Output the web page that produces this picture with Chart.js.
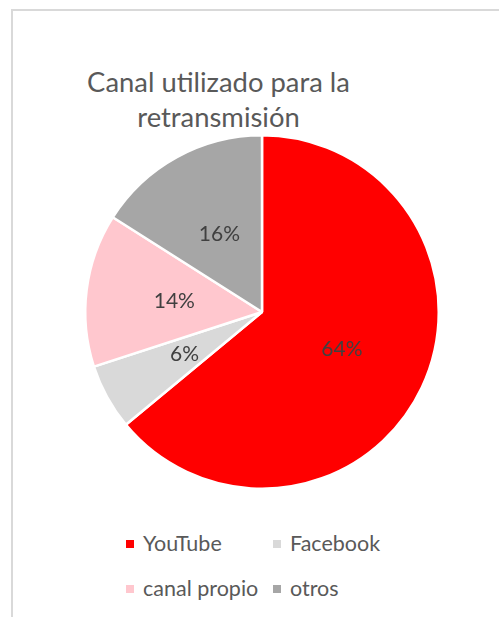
<!DOCTYPE html>
<html>
<head>
<meta charset="utf-8">
<script src="https://cdn.jsdelivr.net/npm/chart.js@4.4.0/dist/chart.umd.min.js"></script>
<style>
  body { margin: 0; background: #fff; font-family: Lato, "Open Sans", sans-serif; }
  #page { position: relative; width: 499px; height: 617px; overflow: hidden; }
  #frame { position: absolute; left: 11px; top: 9px; width: 600px; height: 700px;
           border-left: 2px solid #d9d9d9; border-top: 2px solid #d9d9d9; }
  #title { position: absolute; left: 0; width: 437px; top: 64px; text-align: center;
           color: #595959; font-size: 27.4px; line-height: 35px; }
  #box { position: absolute; left: 0; top: 0; width: 440px; height: 500px; }
  #legend { position: absolute; left: 126px; top: 528px; width: 300px; }
  .item { position: absolute; color: #595959; font-size: 21.5px; white-space: nowrap; line-height: 30px; }
  .item i { display: inline-block; width: 8px; height: 8px; margin-right: 9px; vertical-align: middle; position: relative; top: -2px; }
</style>
</head>
<body>
<div id="page">
  <div id="frame"></div>
  <div id="title">Canal utilizado para la<br>retransmisión</div>
  <div id="box"><canvas id="pie"></canvas></div>
  <div id="legend"></div>
</div>
<script>
const categories = ["YouTube", "Facebook", "canal propio", "otros"];
const shares = [64, 6, 14, 16];
const sliceColors = ["#ff0000", "#d9d9d9", "#ffc7ce", "#a6a6a6"];

// draws the percentage inside each slice, at half the radius
const sliceLabels = {
  id: "sliceLabels",
  afterDatasetsDraw(chart) {
    const ctx = chart.ctx;
    const meta = chart.getDatasetMeta(0);
    ctx.save();
    ctx.font = "21px Lato";
    ctx.fillStyle = "#404040";
    ctx.textAlign = "center";
    ctx.textBaseline = "middle";
    meta.data.forEach((arc, i) => {
      const p = arc.tooltipPosition();
      ctx.fillText(shares[i] + "%", p.x, p.y);
    });
    ctx.restore();
  }
};

const chart = new Chart(document.getElementById("pie"), {
  type: "pie",
  plugins: [sliceLabels],
  data: {
    labels: categories,
    datasets: [{
      data: shares,
      backgroundColor: sliceColors,
      borderColor: "#ffffff",
      borderWidth: 2.5
    }]
  },
  options: {
    responsive: true,
    maintainAspectRatio: false,
    animation: false,
    layout: { padding: { left: 84, right: 0, top: 134, bottom: 10 } },
    plugins: {
      legend: { display: false },
      title: { display: false },
      tooltip: { enabled: false }
    }
  }
});

// legend in two columns like the original
const legendBox = document.getElementById("legend");
categories.forEach((name, i) => {
  const el = document.createElement("div");
  el.className = "item";
  el.style.left = (i % 2) * 147 + "px";
  el.style.top = Math.floor(i / 2) * 45 + "px";
  el.innerHTML = '<i style="background:' + sliceColors[i] + '"></i>' + name;
  legendBox.appendChild(el);
});
</script>
</body>
</html>
